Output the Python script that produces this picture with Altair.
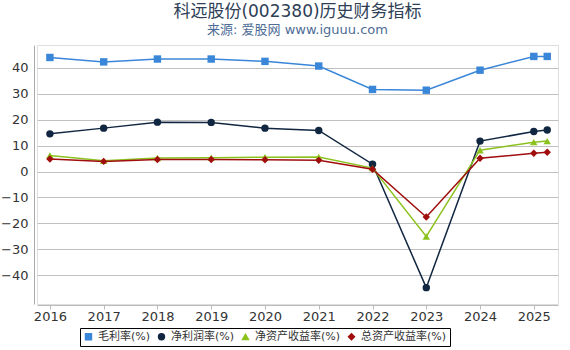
import altair as alt
import pandas as pd

years = [2016, 2017, 2018, 2019, 2020, 2021, 2022, 2023, 2024, 2025, 2025.25]
series_names = ["毛利率(%)", "净利润率(%)", "净资产收益率(%)", "总资产收益率(%)"]
gross = [43.9, 42.2, 43.3, 43.3, 42.4, 40.6, 31.6, 31.3, 39.0, 44.3, 44.3]
net = [14.5, 16.7, 19.0, 18.9, 16.7, 15.8, 2.8, -44.7, 11.7, 15.4, 16.0]
roe = [6.2, 4.1, 5.2, 5.3, 5.5, 5.6, 1.3, -25.0, 8.2, 11.3, 11.7]
roa = [4.8, 3.9, 4.6, 4.6, 4.5, 4.3, 0.9, -17.5, 5.1, 7.0, 7.4]
colors = ["#3a86d8", "#112640", "#8cc21e", "#a10d0d"]
shapes = ["square", "circle", "triangle-up", "diamond"]
y_ticks = [-40, -30, -20, -10, 0, 10, 20, 30, 40]
x_ticks = [2016, 2017, 2018, 2019, 2020, 2021, 2022, 2023, 2024, 2025]

rows = []
for name, vals in zip(series_names, [gross, net, roe, roa]):
    for x, v in zip(years, vals):
        rows.append({"x": x, "v": v, "s": name})
df = pd.DataFrame(rows)

FONT = "DejaVu Sans, Noto Sans CJK SC"

xenc = alt.X("x:Q", scale=alt.Scale(domain=[2015.76, 2025.45], nice=False, zero=False),
             axis=alt.Axis(values=x_ticks, format="d", title=None, grid=False,
                           labelFontSize=13, labelColor="#333", domainColor="#bbb",
                           tickColor="#bbb", tickSize=4, labelPadding=1, offset=1))
yenc = alt.Y("v:Q", scale=alt.Scale(domain=[-51, 48.7], nice=False),
             axis=alt.Axis(values=y_ticks, title=None, grid=True, gridColor="#c0c0c0",
                           labelFontSize=13, labelColor="#333", domainColor="#aaa",
                           ticks=False, labelPadding=6, offset=3))
color = alt.Color("s:N", scale=alt.Scale(domain=series_names, range=colors),
                  legend=alt.Legend(title=None, orient="none", legendX=43, legendY=283,
                                    direction="horizontal", columns=4,
                                    strokeColor="#000", padding=3, labelFontSize=11,
                                    labelColor="#333", symbolSize=35, columnPadding=4,
                                    labelOffset=4, labelFont=FONT))
shape = alt.Shape("s:N", scale=alt.Scale(domain=series_names, range=shapes), legend=None)

base = alt.Chart(df)
lines = base.mark_line(strokeWidth=1.5).encode(x=xenc, y=yenc, color=color, detail="s:N")
pts = base.mark_point(filled=True, opacity=1, size=55).encode(x=xenc, y=yenc, color=color, shape=shape)

chart = alt.layer(lines, pts).properties(
    width=521, height=259,
    title=alt.TitleParams(text="科远股份(002380)历史财务指标", subtitle="来源: 爱股网 www.iguuu.com",
                          anchor="middle", fontSize=17, fontWeight="normal", color="#2d3e55",
                          subtitleFontSize=13, subtitleColor="#4d6c95", font=FONT, subtitleFont=FONT,
                          offset=7, subtitlePadding=3),
    autosize=alt.AutoSizeParams(type="none"),
    padding={"left": 37, "top": 45, "right": 12, "bottom": 46},
).configure_view(stroke=None).configure(font=FONT).configure_axis(labelFont=FONT)

chart.save("out.html", embed_options={"renderer": "svg", "actions": False})
